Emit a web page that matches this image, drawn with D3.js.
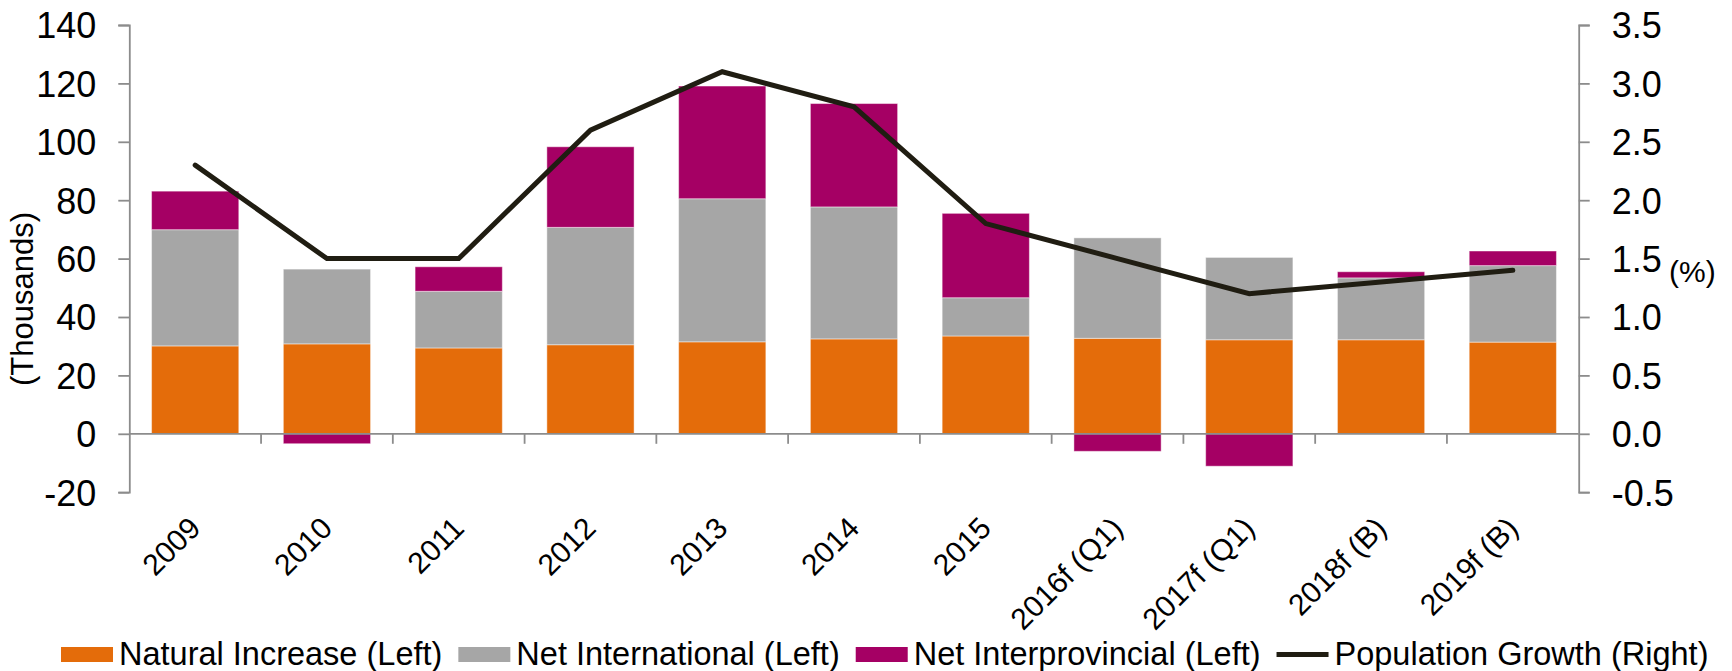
<!DOCTYPE html>
<html>
<head>
<meta charset="utf-8">
<script src="https://cdn.jsdelivr.net/npm/d3@7"></script>
<style>
    body { margin: 0; background: #fff; }
    svg { display: block; font-family: "Liberation Sans", Arial, sans-serif; }
    .axis path, .axis line { stroke: #8c8c8c; stroke-width: 1.8; }
    .axis text { fill: #000; font-size: 36px; }
</style>
</head>
<body>
<main></main>
<script>
// data
const categories = ["2009", "2010", "2011", "2012", "2013", "2014", "2015",
    "2016f (Q1)", "2017f (Q1)", "2018f (B)", "2019f (B)"];
const naturalIncrease = [30.1, 30.8, 29.4, 30.5, 31.5, 32.5, 33.5, 32.7, 32.2, 32.2, 31.4];
const netInternational = [39.8, 25.6, 19.4, 40.2, 49.0, 45.2, 13.1, 34.4, 28.2, 21.2, 26.2];
const netInterprovincial = [13.2, -3.4, 8.4, 27.6, 38.6, 35.4, 28.9, -6.0, -11.1, 2.1, 5.0];
const populationGrowth = [2.3, 1.5, 1.5, 2.6, 3.1, 2.8, 1.8, 1.5, 1.2, 1.3, 1.4];
const leftTicks = [-20, 0, 20, 40, 60, 80, 100, 120, 140];
const rightTicks = [-0.5, 0, 0.5, 1, 1.5, 2, 2.5, 3, 3.5];
const seriesNames = ["Natural Increase (Left)", "Net International (Left)",
    "Net Interprovincial (Left)", "Population Growth (Right)"];
const seriesColors = ["#e46c0a", "#a6a6a6", "#a50064", "#201d12"];

// SVG
const width = 1732, height = 671;
const plot = { left: 129.3, right: 1578.7, top: 25, bottom: 492.2 };
const svg = d3.select("main").append("svg")
    .attr("width", width)
    .attr("height", height);

// scales
const x = d3.scaleBand()
    .domain(categories)
    .range([plot.left, plot.right])
    .paddingInner(0.338)
    .paddingOuter(0.169);
const y = d3.scaleLinear().domain([-20, 140]).range([plot.bottom, plot.top]);
const y2 = d3.scaleLinear().domain([-0.5, 3.5]).range([plot.bottom, plot.top]);

// stacked bars (negatives go below zero)
const rows = categories.map((c, i) => ({
    cat: c,
    nat: naturalIncrease[i],
    intl: netInternational[i],
    inter: netInterprovincial[i]
}));
const keys = ["nat", "intl", "inter"];
const stacked = d3.stack().keys(keys).offset(d3.stackOffsetDiverging)(rows);

svg.append("g")
    .selectAll("g")
    .data(stacked)
    .enter().append("g")
    .attr("fill", (d, i) => seriesColors[i])
    .selectAll("rect")
    .data(d => d)
    .enter().append("rect")
    .attr("x", d => x(d.data.cat))
    .attr("width", x.bandwidth())
    .attr("y", d => y(Math.max(d[0], d[1])))
    .attr("height", d => Math.abs(y(d[0]) - y(d[1])))
    .attr("stroke", "#fff")
    .attr("stroke-opacity", 0.45)
    .attr("stroke-width", 1);

// left axis
svg.append("g")
    .attr("class", "axis")
    .attr("transform", `translate(${plot.left},0)`)
    .call(d3.axisLeft(y).tickValues(leftTicks).tickFormat(d => String(d))
        .tickSize(11).tickSizeOuter(11).tickPadding(22))
    .selectAll("text").attr("dy", "0.36em");

// right axis
svg.append("g")
    .attr("class", "axis")
    .attr("transform", `translate(${plot.right},0)`)
    .call(d3.axisRight(y2).tickValues(rightTicks).tickFormat(d => d.toFixed(1))
        .tickSize(11).tickSizeOuter(11).tickPadding(22))
    .selectAll("text").attr("dy", "0.36em");

// category axis at zero
const gap = x.step() - x.bandwidth();
const xAxis = svg.append("g").attr("class", "axis");
xAxis.append("line")
    .attr("x1", plot.left).attr("x2", plot.right)
    .attr("y1", y(0)).attr("y2", y(0));
xAxis.selectAll(".tick")
    .data(categories.slice(1))
    .enter().append("line")
    .attr("x1", d => x(d) - gap / 2).attr("x2", d => x(d) - gap / 2)
    .attr("y1", y(0)).attr("y2", y(0) + 10);
svg.append("g")
    .selectAll("text")
    .data(categories)
    .enter().append("text")
    .attr("transform", d => `translate(${x(d) + x.bandwidth() / 2 + 7},530) rotate(-45)`)
    .attr("text-anchor", "end")
    .attr("font-size", 30)
    .text(d => d);

// axis titles
svg.append("text")
    .attr("transform", "translate(33,299) rotate(-90)")
    .attr("text-anchor", "middle")
    .attr("font-size", 31)
    .text("(Thousands)");
svg.append("text")
    .attr("x", 1669)
    .attr("y", 282)
    .attr("font-size", 30)
    .text("(%)");

// population growth line
const line = d3.line()
    .x((d, i) => x(categories[i]) + x.bandwidth() / 2)
    .y(d => y2(d));
svg.append("path")
    .datum(populationGrowth)
    .attr("fill", "none")
    .attr("stroke", seriesColors[3])
    .attr("stroke-width", 5)
    .attr("stroke-linecap", "round")
    .attr("d", line);

// legend
const legend = svg.append("g").attr("font-size", 32.5);
let lx = 61;
seriesNames.forEach((name, i) => {
    if (i < 3) {
        legend.append("rect")
            .attr("x", lx).attr("y", 647)
            .attr("width", 52).attr("height", 15)
            .attr("fill", seriesColors[i]);
    } else {
        legend.append("line")
            .attr("x1", lx).attr("x2", lx + 52)
            .attr("y1", 654.5).attr("y2", 654.5)
            .attr("stroke", seriesColors[i])
            .attr("stroke-width", 5);
    }
    const t = legend.append("text")
        .attr("x", lx + 58)
        .attr("y", 665)
        .text(name);
    lx += 58 + t.node().getComputedTextLength() + 16;
});
</script>
</body>
</html>
